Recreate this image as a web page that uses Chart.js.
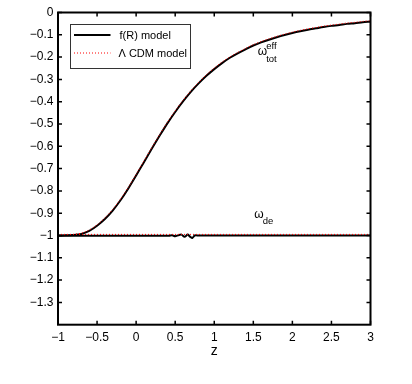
<!DOCTYPE html>
<html><head><meta charset="utf-8">
<script src="https://cdn.jsdelivr.net/npm/chart.js@4.4.1/dist/chart.umd.min.js"></script>
<style>html,body{margin:0;padding:0;background:#fff;}canvas{display:block}</style>
</head><body>
<canvas id="c" width="412" height="384" style="width:412px;height:384px"></canvas>
<script>
// ---- data ----
const zTot = [-1,-0.9,-0.8,-0.7,-0.6,-0.5,-0.4,-0.3,-0.2,-0.1,0,0.1,0.2,0.3,0.4,0.5,0.6,0.7,0.8,0.9,1,1.1,1.2,1.3,1.4,1.5,1.6,1.7,1.8,1.9,2,2.1,2.2,2.3,2.4,2.5,2.6,2.7,2.8,2.9,3];
const frTot = [-1.000,-0.999,-0.998,-0.993,-0.979,-0.956,-0.926,-0.888,-0.842,-0.789,-0.731,-0.671,-0.611,-0.553,-0.497,-0.446,-0.399,-0.356,-0.318,-0.284,-0.254,-0.227,-0.203,-0.183,-0.165,-0.148,-0.134,-0.122,-0.111,-0.101,-0.092,-0.084,-0.077,-0.071,-0.065,-0.060,-0.056,-0.051,-0.048,-0.044,-0.041];
const lcdmTot = [-0.996,-0.996,-0.995,-0.989,-0.975,-0.952,-0.921,-0.883,-0.837,-0.784,-0.726,-0.666,-0.606,-0.548,-0.492,-0.441,-0.394,-0.351,-0.313,-0.279,-0.249,-0.222,-0.199,-0.179,-0.161,-0.144,-0.130,-0.118,-0.107,-0.097,-0.088,-0.080,-0.073,-0.067,-0.061,-0.056,-0.052,-0.047,-0.044,-0.040,-0.037];
const zDeFr = [-1,0,0.42,0.46,0.5,0.54,0.58,0.62,0.66,0.69,0.72,0.75,0.8,3];
const frDe = [-1.001,-1.001,-1.001,-0.999,-1.003,-0.999,-0.996,-1.006,-0.996,-1.005,-1.011,-1.0,-1.0,-1.0];
const zDeLcdm = [-1,3];
const lcdmDe = [-0.995,-0.995];
const xTicks = [-1,-0.5,0,0.5,1,1.5,2,2.5,3];
const yTicks = [0,-0.1,-0.2,-0.3,-0.4,-0.5,-0.6,-0.7,-0.8,-0.9,-1,-1.1,-1.2,-1.3];
const seriesNames = ['f(R) model','\u039B CDM model'];
const xTitle = 'z';

const FONT = "'Liberation Sans', Arial, Helvetica, sans-serif";
Chart.defaults.font.family = FONT;
Chart.defaults.color = '#000';

const pts = (xs, ys) => xs.map((x,i)=>({x:x, y:ys[i]}));
const fmt = v => { const n = Number(v.toFixed(1)); return n < 0 ? '\u2212' + String(Math.abs(n)) : String(n); };

const framePlugin = {
  id: 'frame',
  afterDatasetsDraw(chart){
    const {ctx, chartArea:a, scales:{x, y}} = chart;
    ctx.save();
    ctx.strokeStyle = '#000';
    ctx.lineWidth = 1.5;
    ctx.beginPath();
    const L = 4;
    x.ticks.forEach(t => { const p = x.getPixelForValue(t.value);
      ctx.moveTo(p, a.bottom); ctx.lineTo(p, a.bottom - L);
      ctx.moveTo(p, a.top); ctx.lineTo(p, a.top + L); });
    y.ticks.forEach(t => { const p = y.getPixelForValue(t.value);
      ctx.moveTo(a.left, p); ctx.lineTo(a.left + L, p);
      ctx.moveTo(a.right, p); ctx.lineTo(a.right - L, p); });
    ctx.stroke();
    ctx.lineWidth = 2;
    ctx.strokeRect(a.left, a.top, a.right - a.left, a.bottom - a.top);

    // legend box
    const lx = a.left + 12.5, ly = a.top + 12, lw = 120, lh = 44;
    ctx.fillStyle = '#fff';
    ctx.fillRect(lx, ly, lw, lh);
    ctx.lineWidth = 1;
    ctx.strokeStyle = '#333';
    ctx.strokeRect(lx, ly, lw, lh);
    const ds = chart.data.datasets;
    [0, 1].forEach(i => {
      const d = ds[i];
      const yy = ly + 10.5 + i * 18;
      ctx.beginPath();
      ctx.strokeStyle = d.borderColor;
      ctx.lineWidth = d.borderWidth;
      ctx.setLineDash(d.borderDash || []);
      ctx.moveTo(lx + 3.5, yy); ctx.lineTo(lx + 40, yy);
      ctx.stroke();
      ctx.setLineDash([]);
      ctx.fillStyle = '#000';
      ctx.font = '11px ' + FONT;
      ctx.textBaseline = 'middle';
      ctx.textAlign = 'left';
      ctx.fillText(seriesNames[i], lx + 49 - i, yy + 0.5);
    });

    // curve annotations
    ctx.fillStyle = '#000';
    ctx.textBaseline = 'alphabetic';
    ctx.textAlign = 'left';
    let px = x.getPixelForValue(1.556), py = y.getPixelForValue(-0.177);
    ctx.font = '12px ' + FONT;
    ctx.fillText('\u03C9', px, py + 3);
    ctx.font = '9.5px ' + FONT;
    ctx.fillText('eff', px + 8.5, py - 3);
    ctx.fillText('tot', px + 8.5, py + 10.5);
    px = x.getPixelForValue(1.513); py = y.getPixelForValue(-0.906);
    ctx.font = '12px ' + FONT;
    ctx.fillText('\u03C9', px, py + 3);
    ctx.font = '9.5px ' + FONT;
    ctx.fillText('de', px + 8.5, py + 9.5);
    ctx.restore();
  }
};

new Chart(document.getElementById('c'), {
  type: 'line',
  data: {
    datasets: [
      { label: seriesNames[0], data: pts(zTot, frTot), borderColor: '#000', borderWidth: 2, pointRadius: 0, tension: 0.3, order: 3 },
      { label: seriesNames[1], data: pts(zTot, lcdmTot), borderColor: '#ff0000', borderWidth: 1, borderDash: [1, 2], pointRadius: 0, tension: 0.3, order: 1 },
      { label: 'fR de', data: pts(zDeFr, frDe), borderColor: '#000', borderWidth: 2, pointRadius: 0, tension: 0.3, order: 4 },
      { label: 'lcdm de', data: pts(zDeLcdm, lcdmDe), borderColor: '#ff0000', borderWidth: 1, borderDash: [1, 2], pointRadius: 0, order: 2 }
    ]
  },
  options: {
    responsive: false, animation: false, devicePixelRatio: 1,
    layout: { padding: { left: 0, top: 12.5, right: 41.5, bottom: 0 } },
    plugins: { legend: { display: false }, tooltip: { enabled: false } },
    scales: {
      x: {
        type: 'linear', min: -1, max: 3,
        grid: { display: false, drawTicks: false }, border: { display: false },
        afterBuildTicks: s => { s.ticks = xTicks.map(v => ({ value: v })); },
        afterFit: s => { s.height = 59.3; },
        ticks: { autoSkip: false, maxRotation: 0, padding: 6, font: { size: 12 }, color: '#000', callback: v => fmt(v) },
        title: { display: true, text: xTitle, font: { size: 14 }, color: '#000', padding: { top: 0, bottom: 24 } }
      },
      y: {
        type: 'linear', min: -1.4, max: 0,
        grid: { display: false, drawTicks: false }, border: { display: false },
        afterBuildTicks: s => { s.ticks = yTicks.map(v => ({ value: v })); },
        afterFit: s => { s.width = 58; },
        ticks: { autoSkip: false, padding: 4.5, font: { size: 12 }, color: '#000', callback: v => fmt(v) }
      }
    }
  },
  plugins: [framePlugin]
});
</script>
</body></html>
